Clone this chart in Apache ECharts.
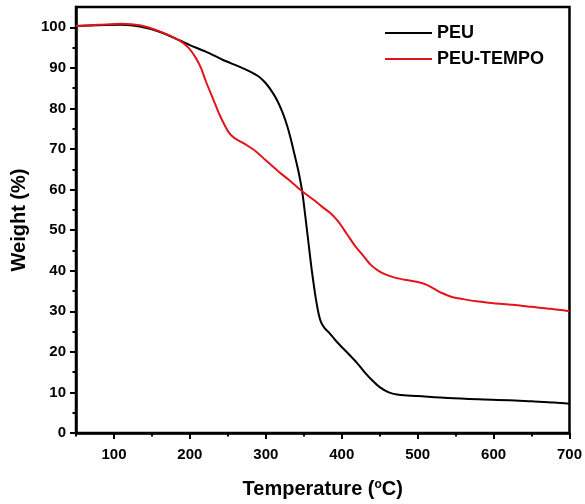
<!DOCTYPE html>
<html>
<head>
<meta charset="UTF-8">
<title>TGA PEU</title>
<script type="text/javascript" src="https://cdn.jsdelivr.net/npm/echarts@6/dist/echarts.min.js"></script>
<style>
html,body{margin:0;padding:0;background:#fff;}
</style>
</head>
<body>
<div id="box" style="width:585px;height:504px;"></div>

<script type="text/javascript">
// temperature (C) / weight (%)
var peuT = [50,80,110,134,160,186,200,221,243,265,280,291,300,309,316,322,328,333,338,343,348,352,357,361,366,370,373,378,383,392,400,410,420,430,440,450,462,475,500,540,580,620,650,680,700];
var peuW = [100.3,100.5,100.6,100.2,98.9,96.8,95.6,94,92,90.3,89,87.8,86.2,83.9,81.6,79,75.8,72.4,68.5,64.5,59.4,53.5,45.6,39.5,33,29,27.2,25.7,24.8,22.8,21.2,19.3,17.3,15,13,11.3,10,9.4,9.1,8.6,8.3,8.1,7.8,7.5,7.2];

var tempoT = [50,80,110,134,160,186,198,208,215,221,230,239,246,252,258,265,276,287,300,317,331,348,362,374,385,395,407,418,427,438,449,460,470,485,500,512,522,532,544,560,580,600,625,650,675,700];
var tempoW = [100.3,100.6,100.9,100.5,99,96.8,95,92.4,89.8,86.7,82.6,78.5,75.8,73.9,72.8,72,70.8,69.4,67.2,64.4,62.3,59.6,57.6,55.8,54.2,52.2,49,46,44,41.5,39.9,38.9,38.3,37.7,37.2,36.5,35.5,34.5,33.6,33,32.4,32,31.6,31.1,30.6,30];

// tick labels
var xMajor = [100,200,300,400,500,600,700];
var xMinor = [50,150,250,350,450,550,650];
var yMajor = [0,10,20,30,40,50,60,70,80,90,100];
var yMinor = [5,15,25,35,45,55,65,75,85,95];

function pairs(xs, ys){
  var out=[];
  for(var i=0;i<xs.length;i++){ out.push([xs[i], ys[i]]); }
  return out;
}

var FONT = '"Liberation Sans", Arial, sans-serif';
var mychart = echarts.init(document.getElementById('box'));

mychart.setOption({
  animation:false,
  textStyle:{fontFamily:FONT},
  grid:{left:76,right:13,top:7,bottom:67,show:true,borderColor:'#000',borderWidth:2.5,backgroundColor:'#fff'},
  legend:{
    orient:'vertical',
    left:380, top:19,
    icon:'rect',
    itemWidth:47, itemHeight:2, itemGap:8,
    textStyle:{fontFamily:FONT,fontSize:18,fontWeight:'bold',color:'#000',lineHeight:18},
    data:['PEU','PEU-TEMPO']
  },
  xAxis:[{
    type:'value', min:50, max:700, position:'bottom',
    name:'Temperature ({s|o}C)', nameLocation:'middle', nameGap:46,
    nameTextStyle:{fontFamily:FONT,fontSize:20,fontWeight:'bold',color:'#000',
      rich:{s:{fontFamily:FONT,fontSize:12,fontWeight:'bold',color:'#000',verticalAlign:'top',padding:[0,0,8,0]}}},
    axisLine:{show:true,lineStyle:{color:'#000',width:2.5}},
    axisTick:{show:true,inside:false,length:6,customValues:xMajor,lineStyle:{color:'#000',width:2}},
    axisLabel:{customValues:xMajor,margin:14,fontFamily:FONT,fontSize:15,fontWeight:'bold',color:'#000'},
    splitLine:{show:false}
  },{
    type:'value', min:50, max:700, position:'bottom',
    axisLine:{show:false},
    axisTick:{show:true,length:3.5,customValues:xMinor,lineStyle:{color:'#000',width:2}},
    axisLabel:{show:false},
    splitLine:{show:false}
  }],
  yAxis:[{
    type:'value', min:0, max:105, position:'left',
    name:'Weight (%)', nameLocation:'middle', nameGap:47,
    nameTextStyle:{fontFamily:FONT,fontSize:20,fontWeight:'bold',color:'#000'},
    axisLine:{show:true,lineStyle:{color:'#000',width:2.5}},
    axisTick:{show:true,length:6,customValues:yMajor,lineStyle:{color:'#000',width:2}},
    axisLabel:{customValues:yMajor,margin:10,fontFamily:FONT,fontSize:15,fontWeight:'bold',color:'#000'},
    splitLine:{show:false}
  },{
    type:'value', min:0, max:105, position:'left',
    axisLine:{show:false},
    axisTick:{show:true,length:3.5,customValues:yMinor,lineStyle:{color:'#000',width:2}},
    axisLabel:{show:false},
    splitLine:{show:false}
  }],
  series:[{
    name:'PEU', type:'line', xAxisIndex:0, yAxisIndex:0,
    symbol:'none', smooth:0.3,
    lineStyle:{color:'#000',width:2},
    itemStyle:{color:'#000'},
    data:pairs(peuT, peuW)
  },{
    name:'PEU-TEMPO', type:'line', xAxisIndex:0, yAxisIndex:0,
    symbol:'none', smooth:0.3,
    lineStyle:{color:'#e3141c',width:2},
    itemStyle:{color:'#e3141c'},
    data:pairs(tempoT, tempoW)
  }]
});
</script>
</body>
</html>
